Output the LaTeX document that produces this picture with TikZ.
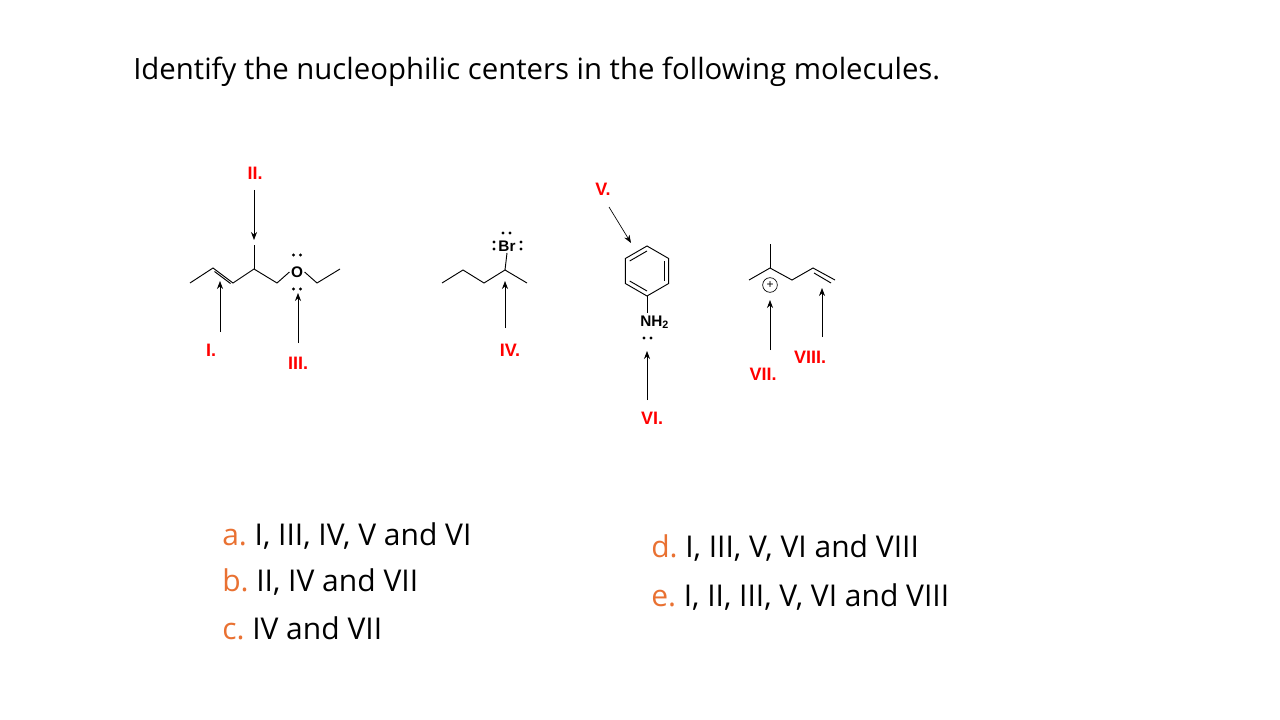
\documentclass[tikz,border=0pt]{standalone}
\usepackage{fontspec}
\usetikzlibrary{calc,arrows.meta}
\setmainfont{Open Sans}
\newfontfamily\arial{Liberation Sans}
\definecolor{lab}{RGB}{255,0,0}
\definecolor{opt}{RGB}{233,113,50}
\begin{document}
\begin{tikzpicture}[x={(0.75pt,0)},y={(0,-0.75pt)},
 bond/.style={line width=0.7pt},
 arr/.style={line width=0.5pt,-{Stealth[length=6pt,width=4.5pt]}},
 lbl/.style={text=lab,font=\arial\bfseries\fontsize{13.5}{14}\selectfont,inner sep=0},
 atom/.style={font=\arial\bfseries\fontsize{11.5}{11}\selectfont,inner sep=1pt},
 txt/.style={anchor=west,inner sep=0,font=\fontsize{22.5}{26}\selectfont}]
\useasboundingbox (0,0) rectangle (1280,720);
\node[txt,font=\fontsize{22}{26}\selectfont] (title) at (133,72) {Identify the nucleophilic centers in the following molecules.};
% molecule 1
\coordinate (a1) at (190,283); \coordinate (a2) at (213,268); \coordinate (a3) at (233,283);
\coordinate (a4) at (254,269); \coordinate (a4u) at (254,245); \coordinate (a5) at (277,283);
\coordinate (a6) at (317,283); \coordinate (a7) at (340,269);
\node[atom] (O) at (297,272) {O};
\draw[bond] (a1)--(a2)--(a3)--(a4)--(a5)--(O.west);
\draw[bond] ($(a2)+(1.5,3.5)$)--($(a3)+(-2.5,0.5)$);
\draw[bond] (a4)--(a4u);
\draw[bond] (O.east)--(a6)--(a7);
\foreach \p in {(293.5,255),(300.5,255),(293.5,289),(300.5,289)} \fill \p circle (1.6);
\node[lbl] (L2) at (255,173) {II.};
\coordinate (t2a) at (254,190); \coordinate (t2b) at (254,240);
\draw[arr] (t2a)--(t2b);
\node[lbl] (L1) at (211,350) {I.};
\coordinate (t1a) at (220,332); \coordinate (t1b) at (220,281);
\draw[arr] (t1a)--(t1b);
\node[lbl] (L3) at (298,363) {III.};
\coordinate (t3a) at (298,343); \coordinate (t3b) at (298,293);
\draw[arr] (t3a)--(t3b);
% molecule 2
\coordinate (b1) at (442,283); \coordinate (b2) at (463,270); \coordinate (b3) at (484,283);
\coordinate (b4) at (505,270); \coordinate (b5) at (527,283);
\node[atom] (Br) at (507,246) {Br};
\draw[bond] (b1)--(b2)--(b3)--(b4)--(b5);
\draw[bond] (b4)--(Br.south);
\foreach \p in {(503,233),(510,233),(494,242),(494,249),(521,242),(521,249)} \fill \p circle (1.6);
\node[lbl] (L4) at (510,350) {IV.};
\coordinate (t4a) at (505,328); \coordinate (t4b) at (505,281);
\draw[arr] (t4a)--(t4b);
% aniline
\coordinate (ring) at (647,271);
\draw[bond] (ring) +(90:25)--+(30:25)--+(-30:25)--+(-90:25)--+(-150:25)--+(150:25)--cycle;
\draw[bond] ($(ring)+(-90:20)$)--($(ring)+(-150:20)$);
\draw[bond] ($(ring)+(30:20)$)--($(ring)+(-30:20)$);
\draw[bond] ($(ring)+(90:20)$)--($(ring)+(150:20)$);
\node[atom,anchor=west,inner sep=0] (N) at (640,322) {NH\textsubscript{2}};
\draw[bond] ($(ring)+(90:25)$)--(647,313);
\fill (644,338) circle (1.6); \fill (651,338) circle (1.6);
\node[lbl] (L5) at (603,189) {V.};
\coordinate (t5a) at (609,207); \coordinate (t5b) at (631,243);
\draw[arr] (t5a)--(t5b);
\node[lbl] (L6) at (652,418) {VI.};
\coordinate (t6a) at (647,400); \coordinate (t6b) at (647,351);
\draw[arr] (t6a)--(t6b);
% molecule 4
\coordinate (c1) at (749,280); \coordinate (c2) at (770,268); \coordinate (c2u) at (770,244);
\coordinate (c3) at (792,280); \coordinate (c4) at (813,268); \coordinate (c5) at (835,280);
\draw[bond] (c1)--(c2)--(c3)--(c4)--(c5); \draw[bond] (c2)--(c2u);
\draw[bond] ($(c4)+(1,5)$)--($(c5)+(-4,3)$);
\node[draw,circle,line width=0.5pt,inner sep=0,minimum size=11pt,font=\arial\fontsize{9}{9}\selectfont] (plus) at (770,285) {+};
\node[lbl] (L7) at (763,374) {VII.};
\coordinate (t7a) at (770,350); \coordinate (t7b) at (770,300);
\draw[arr] (t7a)--(t7b);
\node[lbl] (L8) at (810,357) {VIII.};
\coordinate (t8a) at (822,337); \coordinate (t8b) at (822,288);
\draw[arr] (t8a)--(t8b);
% options
\node[txt] (oa) at (222,536) {\textcolor{opt}{a.}\hspace{-2pt} I, III, IV, V and VI};
\node[txt] (ob) at (222,582) {\textcolor{opt}{b.}\hspace{-2pt} II, IV and VII};
\node[txt] (oc) at (222,628) {\textcolor{opt}{c.}\hspace{-2pt} IV and VII};
\node[txt] (od) at (651,548) {\textcolor{opt}{d.}\hspace{-2pt} I, III, V, VI and VIII};
\node[txt] (oe) at (651,597) {\textcolor{opt}{e.}\hspace{-2pt} I, II, III, V, VI and VIII};
\end{tikzpicture}
\end{document}
